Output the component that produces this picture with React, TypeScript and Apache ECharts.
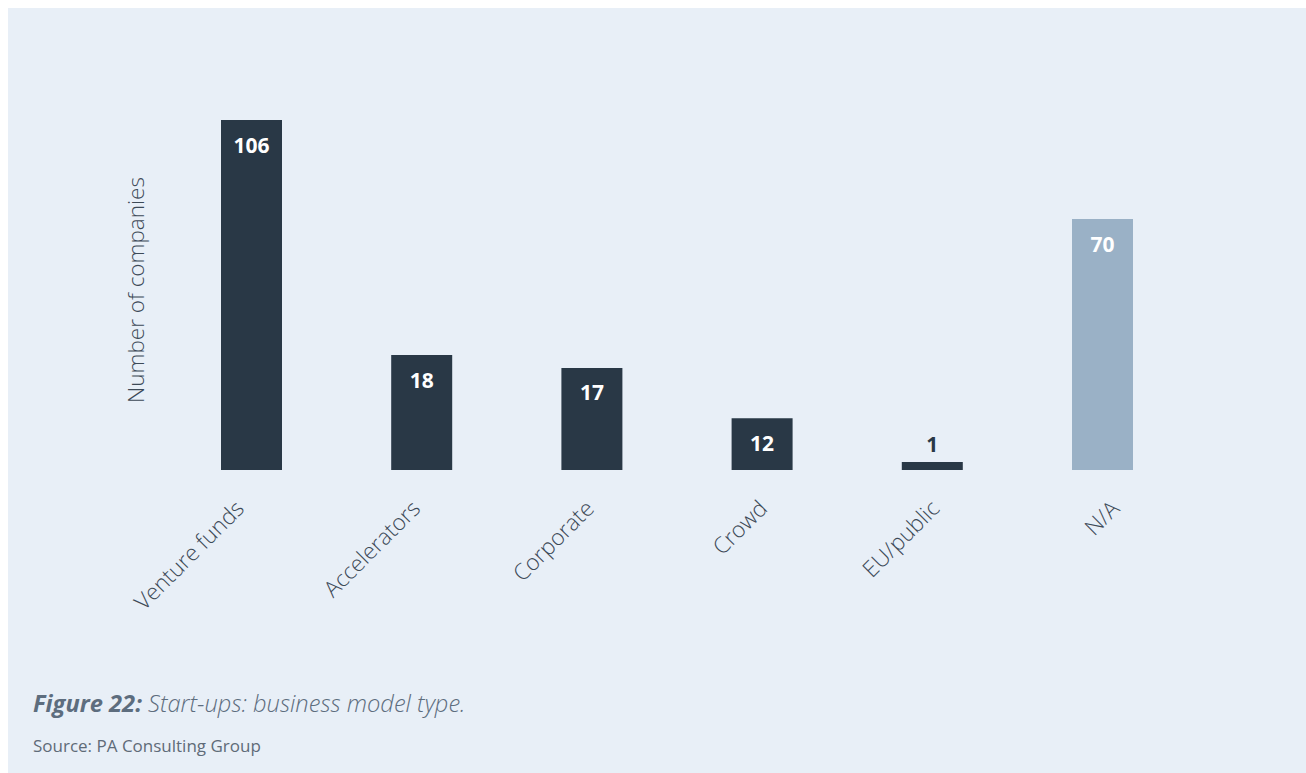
import React, { useEffect, useRef } from "react";
import * as echarts from "echarts";

// Business model categories
const categories: string[] = ["Venture funds", "Accelerators", "Corporate", "Crowd", "EU/public", "N/A"];
// Number of companies shown on each bar
const companyCounts: number[] = [106, 18, 17, 12, 1, 70];
// Drawn bar lengths as they appear in the figure (not to scale with the counts), in count-units where 106 is the full bar
const drawnLengths: number[] = [106, 34.8, 30.9, 15.7, 2.4, 76];
// Which bars are highlighted as "unknown"
const isUnknown: boolean[] = [false, false, false, false, false, true];

const TITLE_BOLD = "Figure 22:";
const TITLE_REST = " Start-ups: business model type.";
const SOURCE = "Source: PA Consulting Group";
const Y_NAME = "Number of companies";

const DARK = "#293846";
const LIGHT = "#9ab1c6";
const BG = "#e8eff7";
const TEXT = "#3d4a57";

// horizontal nudges of the rotated category labels (px, to the right)
const labelNudge: number[] = [0, 6, 9.5, 12.5, 14.5, 24.5];

export default function App() {
  const ref = useRef<HTMLDivElement>(null);
  useEffect(() => {
    document.documentElement.style.overflow = "hidden";
    document.body.style.overflow = "hidden";
    if (!ref.current) return;
    const chart = echarts.init(ref.current, undefined, { renderer: "svg" });
    const rich: Record<string, any> = {};
    labelNudge.forEach((dx, i) => {
      const a = dx / Math.SQRT2;
      rich["l" + i] = {
        color: TEXT,
        fontFamily: "Open Sans",
        fontWeight: 300,
        fontSize: 22.5,
        padding: [2 * a, Math.max(0, 17 - a), 0, 0],
      };
    });
    chart.setOption({
      animation: false,
      backgroundColor: BG,
      grid: { left: 158.4, right: 118.4, top: 112, bottom: 303, containLabel: false },
      xAxis: {
        type: "category",
        data: categories,
        axisLine: { show: false },
        axisTick: { show: false },
        axisLabel: {
          rotate: 45,
          margin: 22,
          interval: 0,
          color: TEXT,
          fontFamily: "Open Sans",
          fontWeight: 300,
          fontSize: 22.5,
          formatter: (v: string, i: number) => "{l" + i + "|" + v + "}",
          rich,
        },
      },
      yAxis: {
        type: "value",
        min: 0,
        max: 106,
        show: false,
        splitLine: { show: false },
      },
      series: [
        {
          type: "bar",
          barWidth: 61,
          data: drawnLengths.map((v, i) => ({
            value: v,
            itemStyle: { color: isUnknown[i] ? LIGHT : DARK },
            label: companyCounts[i] < 5
              ? { show: true, position: "top", distance: 8, color: DARK }
              : { show: true, position: "insideTop", distance: 14, color: "#ffffff" },
          })),
          label: {
            show: true,
            fontFamily: "Open Sans",
            fontWeight: "bold",
            fontSize: 21,
            formatter: (p: any) => String(companyCounts[p.dataIndex]),
          },
        },
      ],
      graphic: [
        {
          type: "text",
          x: 127,
          y: 282,
          rotation: Math.PI / 2,
          style: {
            text: Y_NAME,
            fill: TEXT,
            font: '300 22.5px "Open Sans"',
            textAlign: "center",
            textVerticalAlign: "middle",
          },
        },
        {
          type: "text",
          x: 25,
          y: 695,
          style: {
            text: "{b|" + TITLE_BOLD + "}{i|" + TITLE_REST + "}",
            rich: {
              b: { fontFamily: "Open Sans", fontStyle: "italic", fontWeight: "bold", fontSize: 23.7, fill: "#5d6d7e" },
              i: { fontFamily: "Open Sans", fontStyle: "italic", fontWeight: 300, fontSize: 23.7, fill: "#5d6d7e" },
            },
            textVerticalAlign: "middle",
          },
        },
        {
          type: "text",
          x: 25,
          y: 737,
          style: {
            text: SOURCE,
            fill: "#5f6b78",
            font: '17px "Open Sans"',
            textVerticalAlign: "middle",
          },
        },
      ],
    });
    return () => chart.dispose();
  }, []);
  return (
    <div
      ref={ref}
      style={{ position: "fixed", left: 8, top: 8, width: 1298, height: 765 }}
    />
  );
}
